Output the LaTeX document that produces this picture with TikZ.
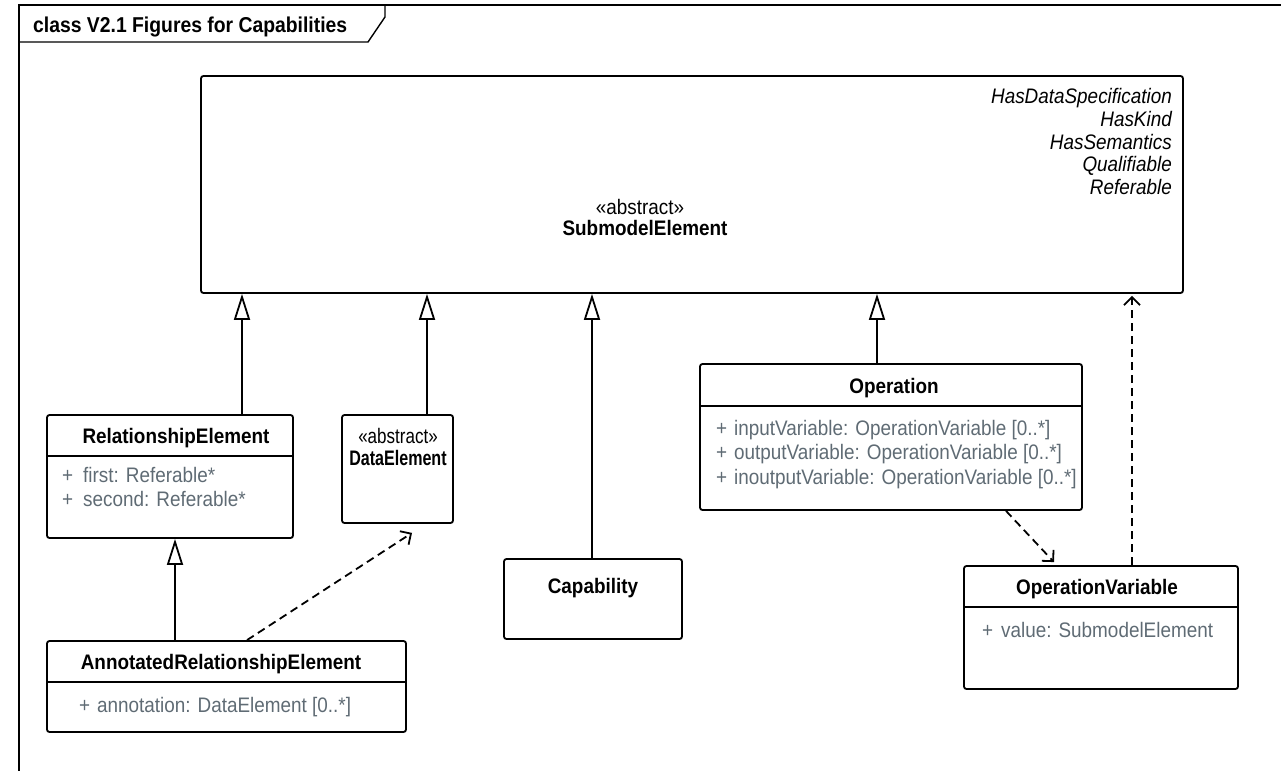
\documentclass[tikz,border=0pt]{standalone}
\usepackage{fontspec}
\setmainfont{Liberation Sans}[FakeStretch=0.9]
\usetikzlibrary{arrows.meta,calc}
\definecolor{attrgray}{RGB}{95,107,116}
\newcommand\umlsize{\fontsize{21bp}{24bp}\selectfont}
\begin{document}
\begin{tikzpicture}[x=1bp,y=-1bp,
  cls/.style={draw, line width=1.8bp, rounded corners=2.5bp, inner sep=0pt},
  ttl/.style={font=\umlsize\bfseries, inner sep=0pt, anchor=base},
  stereo/.style={font=\umlsize, inner sep=0pt, anchor=base},
  iface/.style={font=\umlsize\itshape, inner sep=0pt, anchor=base east},
  attr/.style={font=\umlsize, text=attrgray, inner sep=0pt, anchor=base west},
  sepline/.style={line width=1.8bp},
  gen/.style={line width=1.8bp, -{Triangle[open,length=26bp,width=16bp]}},
  dep/.style={line width=1.8bp, dash pattern=on 8bp off 5bp, -{Straight Barb[length=8bp,width=16bp]}},
  frameln/.style={line width=1.4bp}
]
\useasboundingbox (0,0) rectangle (1281,771);

% diagram frame with its name tab
\draw[frameln] (19,771) -- (19,5) -- (1281,5);
\draw[frameln] (19,42) -- (368,42) -- (385,17) -- (385,5);
\node[inner sep=0pt, anchor=base west, font=\fontsize{21.5bp}{24bp}\selectfont\bfseries] (frametitle) at (33,33) {class V2.1 Figures for Capabilities};

% class boxes
\node[cls, minimum width=982bp, minimum height=217bp] (sme) at (692,184.5) {};
\node[cls, minimum width=246bp, minimum height=123bp] (rel) at (170,476.5) {};
\node[cls, minimum width=111bp, minimum height=108bp] (de) at (397.5,469) {};
\node[cls, minimum width=178bp, minimum height=80bp] (cap) at (593,599) {};
\node[cls, minimum width=382bp, minimum height=146bp] (op) at (891,437) {};
\node[cls, minimum width=274bp, minimum height=123bp] (ov) at (1101,627.5) {};
\node[cls, minimum width=359bp, minimum height=91bp] (are) at (226.5,686.5) {};

% compartment separators
\draw[sepline] ([yshift=-42bp]rel.north west) -- ([yshift=-42bp]rel.north east);
\draw[sepline] ([yshift=-43bp]op.north west) -- ([yshift=-43bp]op.north east);
\draw[sepline] ([yshift=-42bp]ov.north west) -- ([yshift=-42bp]ov.north east);
\draw[sepline] ([yshift=-42bp]are.north west) -- ([yshift=-42bp]are.north east);

% SubmodelElement
\node[stereo] (smest) at (640,214) {«abstract»};
\node[ttl] (smename) at (645,235) {SubmodelElement};
\node[iface] (if1) at (1172,104) {HasDataSpecification};
\node[iface] (if2) at (1172,126.5) {HasKind};
\node[iface] (if3) at (1172,149) {HasSemantics};
\node[iface] (if4) at (1172,171.5) {Qualifiable};
\node[iface] (if5) at (1172,194) {Referable};

% RelationshipElement
\node[ttl] (relname) at (176,443) {RelationshipElement};
\node[attr] (relp1) at (62,482) {+};
\node[attr] (rela1) at (83,482) {first: Referable*};
\node[attr] (relp2) at (62,506) {+};
\node[attr] (rela2) at (83,506) {second: Referable*};

% DataElement (narrow box: text condensed to fit)
\node[stereo] (dest) at (398,443) {\scalebox{0.9}[1]{«abstract»}};
\node[ttl] (dename) at (398,465) {\scalebox{0.85}[1]{DataElement}};

% Capability
\node[ttl] (capname) at (593,593) {Capability};

% Operation
\node[ttl] (opname) at (894,393) {Operation};
\node[attr] (opp1) at (716,435) {+};
\node[attr] (opa1) at (734,435) {inputVariable: OperationVariable [0..*]};
\node[attr] (opp2) at (716,459) {+};
\node[attr] (opa2) at (734,459) {outputVariable: OperationVariable [0..*]};
\node[attr] (opp3) at (716,484) {+};
\node[attr] (opa3) at (734,484) {inoutputVariable: OperationVariable [0..*]};

% OperationVariable
\node[ttl] (ovname) at (1097,594) {OperationVariable};
\node[attr] (ovp1) at (982,637) {+};
\node[attr] (ova1) at (1001,637) {value: SubmodelElement};

% AnnotatedRelationshipElement
\node[ttl] (arename) at (221,669) {AnnotatedRelationshipElement};
\node[attr] (arep1) at (79,712) {+};
\node[attr] (area1) at (97,712) {annotation: DataElement [0..*]};

% connector columns
\coordinate (xrel) at (242,0);
\coordinate (xde) at (427,0);
\coordinate (xcap) at (592,0);
\coordinate (xop) at (877,0);
\coordinate (xov) at (1132,0);
\coordinate (xare) at (175,0);
\coordinate (xdepa) at (247,0);
\coordinate (xdepb) at (412,0);
\coordinate (xdepc) at (1006,0);
\coordinate (xdepd) at (1054,0);

% generalizations
\draw[gen] (rel.north -| xrel) -- (sme.south -| xrel);
\draw[gen] (de.north -| xde) -- (sme.south -| xde);
\draw[gen] (cap.north -| xcap) -- (sme.south -| xcap);
\draw[gen] (op.north -| xop) -- (sme.south -| xop);
\draw[gen] (are.north -| xare) -- (rel.south -| xare);

% dependencies
\draw[dep] (ov.north -| xov) -- ($(sme.south -| xov)+(0,2)$);
\draw[dep] (are.north -| xdepa) -- ($(de.south -| xdepb)+(0,9)$);
\draw[dep] (op.south -| xdepc) -- ($(ov.north -| xdepd)+(0,-3)$);
\end{tikzpicture}
\end{document}
